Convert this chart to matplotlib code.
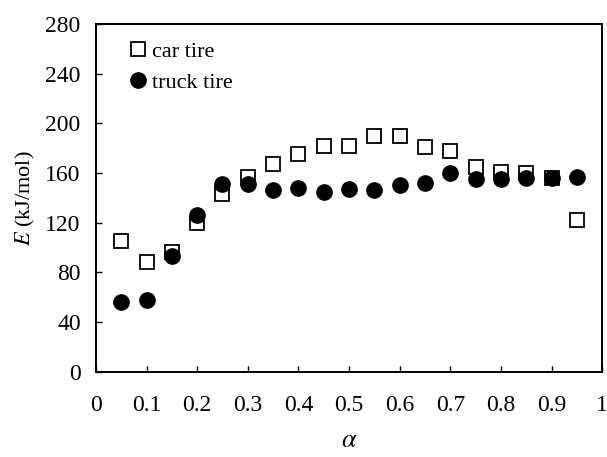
import matplotlib
matplotlib.use('Agg')
import matplotlib.pyplot as plt
import numpy as np

# conversion levels
alpha = [0.05, 0.10, 0.15, 0.20, 0.25, 0.30, 0.35, 0.40, 0.45, 0.50,
         0.55, 0.60, 0.65, 0.70, 0.75, 0.80, 0.85, 0.90, 0.95]

# activation energy, kJ/mol
E_car = [105, 88, 96, 120, 143, 157, 167, 175, 182, 182,
         190, 190, 181, 178, 165, 161, 160, 156, 122]
E_truck = [56, 58, 93, 126, 151, 151, 146, 148, 145, 147,
           146, 150, 152, 160, 155, 155, 156, 156, 157]

xticks = [0, 0.1, 0.2, 0.3, 0.4, 0.5, 0.6, 0.7, 0.8, 0.9, 1]
xticklabels = ['0', '0.1', '0.2', '0.3', '0.4', '0.5', '0.6', '0.7', '0.8', '0.9', '1']
yticks = [0, 40, 80, 120, 160, 200, 240, 280]

plt.rcParams['font.family'] = ['Liberation Serif', 'DejaVu Serif']
plt.rcParams['mathtext.fontset'] = 'stix'

fig = plt.figure(figsize=(6.07, 4.57), dpi=100)
ax = fig.add_axes([0.158, 0.187, 0.834, 0.7605])

ax.plot(alpha, E_car, linestyle='none', marker='s', markersize=10,
        markerfacecolor='white', markeredgecolor='black', markeredgewidth=1.3,
        label='car tire')
ax.plot(alpha, E_truck, linestyle='none', marker='o', markersize=11,
        markerfacecolor='black', markeredgecolor='black',
        label='truck tire')

ax.set_xlim(0, 1)
ax.set_ylim(0, 280)
ax.set_xticks(xticks)
ax.set_xticklabels(xticklabels)
ax.set_yticks(yticks)
ax.tick_params(direction='in', length=4, width=1, labelsize=17)
ax.tick_params(axis='x', pad=17)
ax.tick_params(axis='y', pad=11)

for s in ax.spines.values():
    s.set_linewidth(1.4)

ax.set_xlabel(r'$\alpha$', fontsize=19, labelpad=10)
ax.set_ylabel(r'$E$ (kJ/mol)', fontsize=16, labelpad=6)

ax.legend(loc='upper left', bbox_to_anchor=(0.061, 0.951), frameon=False,
          fontsize=16, handletextpad=0.15, handlelength=1.0,
          labelspacing=0.5, borderaxespad=0, borderpad=0)

plt.savefig('out.png', dpi=100)
